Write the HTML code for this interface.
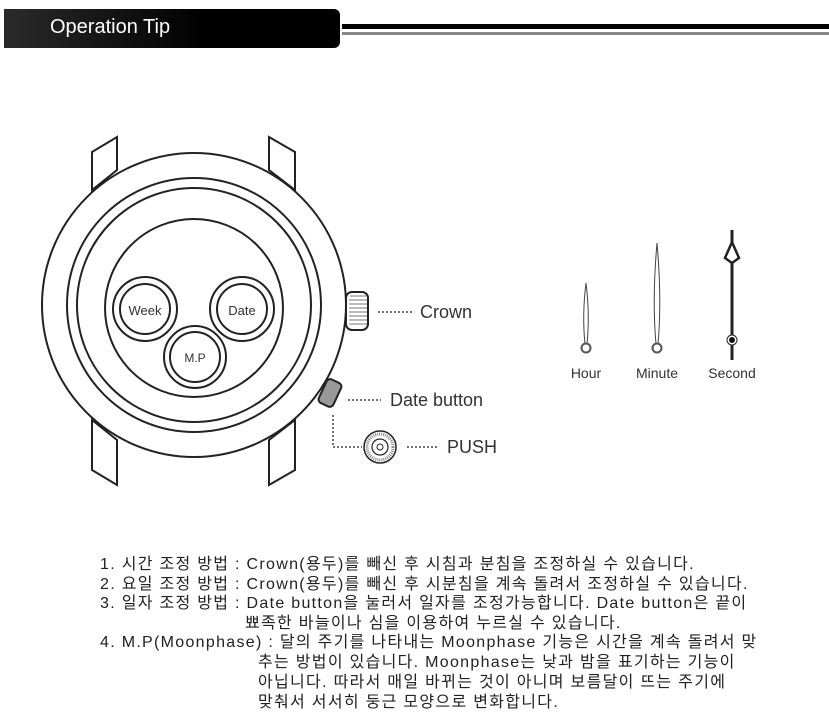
<!DOCTYPE html>
<html><head><meta charset="utf-8"><style>
body{margin:0;width:829px;height:722px;background:#fff;position:relative;overflow:hidden;font-family:"Liberation Sans","Noto Sans CJK KR",sans-serif;}
.bar{position:absolute;left:4px;top:9px;width:336px;height:39px;background:linear-gradient(90deg,#2a2a2a,#000 60%);border-radius:0 6px 6px 0;}
.bar span{position:absolute;left:46px;top:7px;color:#fff;font-size:20px;}
.t{position:absolute;font-size:16px;letter-spacing:1.3px;color:#222;white-space:nowrap;line-height:20px;}
</style></head><body>
<div class="bar"><span>Operation Tip</span></div>
<div style="position:absolute;left:342px;top:24px;width:487px;height:5px;background:#000"></div>
<div style="position:absolute;left:342px;top:32px;width:487px;height:3px;background:#888"></div>
<svg width="829" height="722" style="position:absolute;left:0;top:0" fill="none" stroke="#222" stroke-width="2">
<polygon points="92,152 117,137 117,170 92,190" fill="#fff"/>
<polygon points="295,152 269,137 269,170 295,190" fill="#fff"/>
<polygon points="92,470 117,485 117,440 92,420" fill="#fff"/>
<polygon points="295,470 269,485 269,440 295,420" fill="#fff"/>
<rect x="346" y="292" width="22" height="38" rx="6" fill="#fff"/>
<g stroke="#777" stroke-width="1"><line x1="350" y1="296" x2="366" y2="296"/><line x1="349" y1="300" x2="367" y2="300"/><line x1="349" y1="304" x2="367" y2="304"/><line x1="349" y1="308" x2="367" y2="308"/><line x1="349" y1="312" x2="367" y2="312"/><line x1="349" y1="316" x2="367" y2="316"/><line x1="349" y1="320" x2="367" y2="320"/><line x1="349" y1="324" x2="367" y2="324"/></g>
<g transform="rotate(25 330 393)"><rect x="322" y="380" width="16" height="26" rx="4" fill="#999"/></g>
<circle cx="194" cy="305" r="152" fill="#fff"/>
<circle cx="194" cy="305" r="127"/>
<circle cx="194" cy="305" r="117"/>
<circle cx="194" cy="308" r="89"/>
<circle cx="145" cy="309" r="32" fill="#fff"/><circle cx="145" cy="309" r="25"/>
<circle cx="242" cy="309" r="32" fill="#fff"/><circle cx="242" cy="309" r="25"/>
<circle cx="195" cy="357" r="31" fill="#fff"/><circle cx="195" cy="357" r="25"/>
<g stroke-dasharray="2,2" stroke-width="1.5" stroke="#444">
<line x1="378" y1="312" x2="412" y2="312"/>
<line x1="348" y1="400" x2="381" y2="400"/>
<polyline points="333,415 333,447 362,447"/>
<line x1="407" y1="447" x2="437" y2="447"/>
</g>
<circle cx="380" cy="447" r="16" stroke-width="1.5"/>
<circle cx="380" cy="447" r="13" stroke="#888" stroke-width="3" stroke-dasharray="1,1"/>
<circle cx="380" cy="447" r="8" stroke-width="1.2"/>
<circle cx="380" cy="447" r="3" stroke-width="1"/>
<path d="M586,283 Q590,315 587,344 L585,344 Q582,315 586,283Z" stroke="#444" stroke-width="1"/>
<circle cx="586" cy="348" r="4.5" stroke="#555" stroke-width="2"/>
<path d="M657,243 Q662,300 658,344 L656,344 Q652,300 657,243Z" stroke="#444" stroke-width="1"/>
<circle cx="657" cy="348" r="4.5" stroke="#555" stroke-width="2"/>
<line x1="732" y1="230" x2="732" y2="360" stroke-width="3"/>
<polygon points="732,242 739,258 732,263 725,258" fill="#fff" stroke-width="2.5"/>
<circle cx="732" cy="340" r="5" fill="#fff" stroke-width="1"/>
<circle cx="732" cy="340" r="3" fill="#111" stroke="none"/>
<g fill="#333" stroke="none" font-family="Liberation Sans, sans-serif">
<text x="145" y="315" font-size="13" text-anchor="middle">Week</text>
<text x="242" y="315" font-size="13" text-anchor="middle">Date</text>
<text x="195" y="362" font-size="12" text-anchor="middle">M.P</text>
<text x="420" y="318" font-size="18">Crown</text>
<text x="390" y="406" font-size="18">Date button</text>
<text x="447" y="453" font-size="18">PUSH</text>
<text x="586" y="378" font-size="14" text-anchor="middle">Hour</text>
<text x="657" y="378" font-size="14" text-anchor="middle">Minute</text>
<text x="732" y="378" font-size="14" text-anchor="middle">Second</text>
</g>
</svg>
<div class="t" style="left:100px;top:555px">1. 시간 조정 방법 : Crown(용두)를 빼신 후 시침과 분침을 조정하실 수 있습니다.</div>
<div class="t" style="left:100px;top:575px">2. 요일 조정 방법 : Crown(용두)를 빼신 후 시분침을 계속 돌려서 조정하실 수 있습니다.</div>
<div class="t" style="left:100px;top:594px">3. 일자 조정 방법 : Date button을 눌러서 일자를 조정가능합니다. Date button은 끝이</div>
<div class="t" style="left:245px;top:614px">뾰족한 바늘이나 심을 이용하여 누르실 수 있습니다.</div>
<div class="t" style="left:100px;top:633px">4. M.P(Moonphase) : 달의 주기를 나타내는 Moonphase 기능은 시간을 계속 돌려서 맞</div>
<div class="t" style="left:258px;top:653px">추는 방법이 있습니다. Moonphase는 낮과 밤을 표기하는 기능이</div>
<div class="t" style="left:258px;top:673px">아닙니다. 따라서 매일 바뀌는 것이 아니며 보름달이 뜨는 주기에</div>
<div class="t" style="left:258px;top:693px">맞춰서 서서히 둥근 모양으로 변화합니다.</div>
</body></html>
